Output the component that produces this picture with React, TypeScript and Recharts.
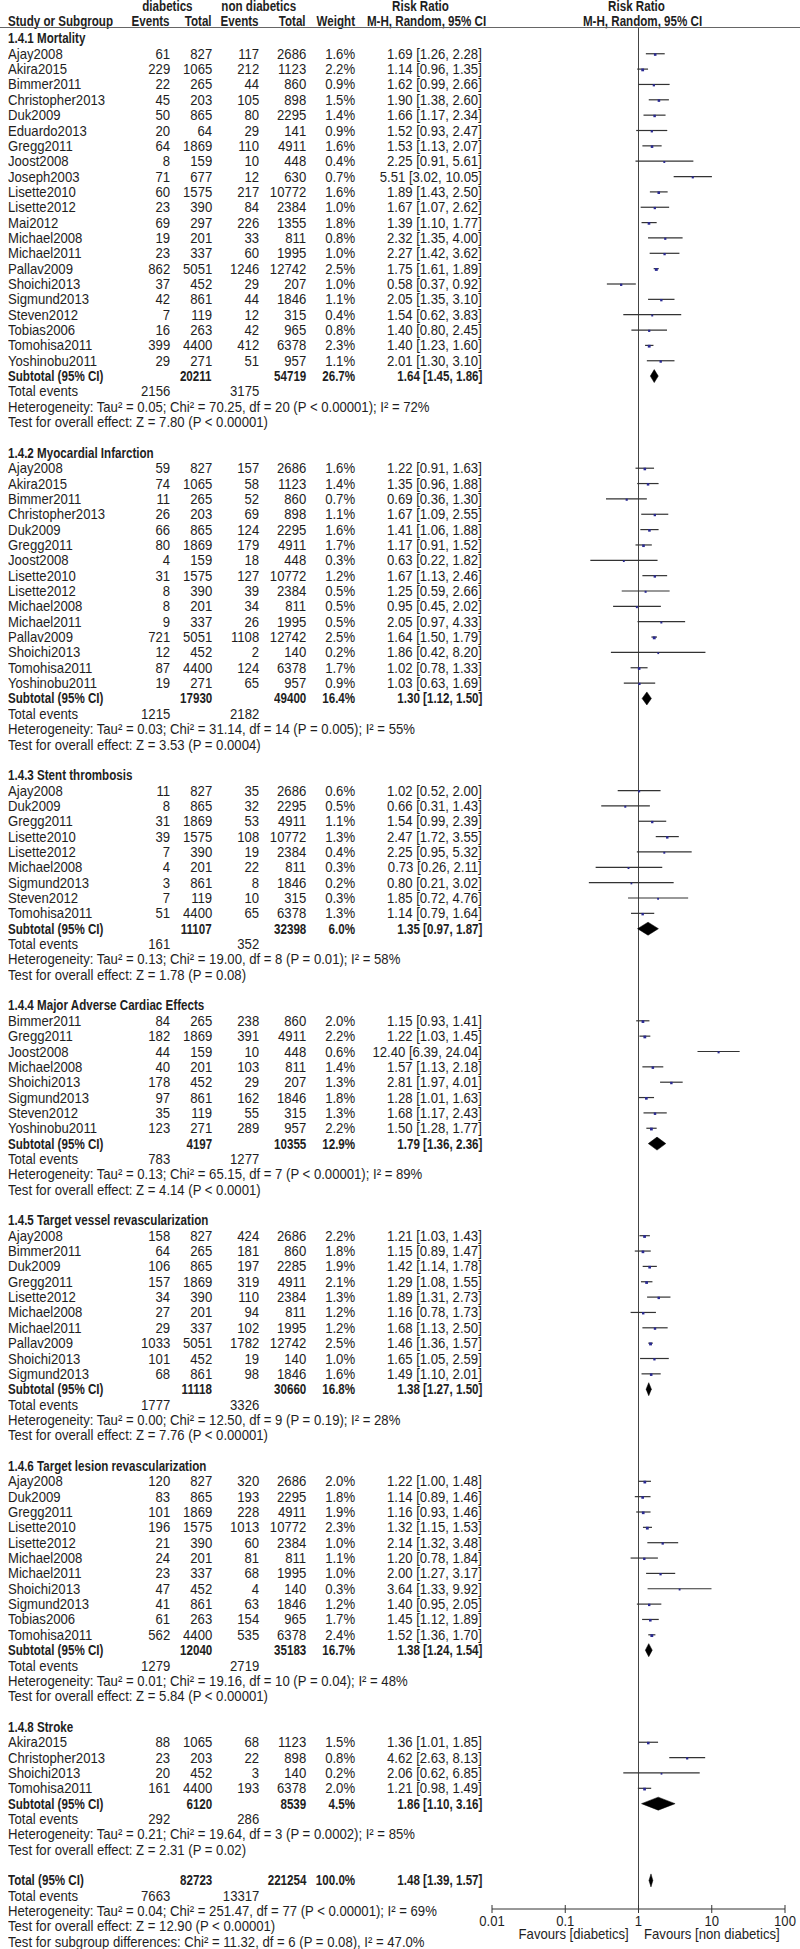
import React from 'react';
import { ScatterChart, Scatter, XAxis, YAxis, ErrorBar, ReferenceLine } from 'recharts';

// [study, diabetic events, diabetic total, non-diabetic events, non-diabetic total, weight %, RR, lower, upper]
type Study = [string, number, number, number, number, number, number, number, number];

const mortality: Study[] = [
  ['Ajay2008', 61, 827, 117, 2686, 1.6, 1.69, 1.26, 2.28],
  ['Akira2015', 229, 1065, 212, 1123, 2.2, 1.14, 0.96, 1.35],
  ['Bimmer2011', 22, 265, 44, 860, 0.9, 1.62, 0.99, 2.66],
  ['Christopher2013', 45, 203, 105, 898, 1.5, 1.9, 1.38, 2.6],
  ['Duk2009', 50, 865, 80, 2295, 1.4, 1.66, 1.17, 2.34],
  ['Eduardo2013', 20, 64, 29, 141, 0.9, 1.52, 0.93, 2.47],
  ['Gregg2011', 64, 1869, 110, 4911, 1.6, 1.53, 1.13, 2.07],
  ['Joost2008', 8, 159, 10, 448, 0.4, 2.25, 0.91, 5.61],
  ['Joseph2003', 71, 677, 12, 630, 0.7, 5.51, 3.02, 10.05],
  ['Lisette2010', 60, 1575, 217, 10772, 1.6, 1.89, 1.43, 2.5],
  ['Lisette2012', 23, 390, 84, 2384, 1.0, 1.67, 1.07, 2.62],
  ['Mai2012', 69, 297, 226, 1355, 1.8, 1.39, 1.1, 1.77],
  ['Michael2008', 19, 201, 33, 811, 0.8, 2.32, 1.35, 4.0],
  ['Michael2011', 23, 337, 60, 1995, 1.0, 2.27, 1.42, 3.62],
  ['Pallav2009', 862, 5051, 1246, 12742, 2.5, 1.75, 1.61, 1.89],
  ['Shoichi2013', 37, 452, 29, 207, 1.0, 0.58, 0.37, 0.92],
  ['Sigmund2013', 42, 861, 44, 1846, 1.1, 2.05, 1.35, 3.1],
  ['Steven2012', 7, 119, 12, 315, 0.4, 1.54, 0.62, 3.83],
  ['Tobias2006', 16, 263, 42, 965, 0.8, 1.4, 0.8, 2.45],
  ['Tomohisa2011', 399, 4400, 412, 6378, 2.3, 1.4, 1.23, 1.6],
  ['Yoshinobu2011', 29, 271, 51, 957, 1.1, 2.01, 1.3, 3.1],
];
const mortalitySub = [20211, 54719, 26.7, 1.64, 1.45, 1.86];
const mortalityEvents = [2156, 3175];
const mortalityHet = 'Heterogeneity: Tau² = 0.05; Chi² = 70.25, df = 20 (P < 0.00001); I² = 72%';
const mortalityZ = 'Test for overall effect: Z = 7.80 (P < 0.00001)';

const infarction: Study[] = [
  ['Ajay2008', 59, 827, 157, 2686, 1.6, 1.22, 0.91, 1.63],
  ['Akira2015', 74, 1065, 58, 1123, 1.4, 1.35, 0.96, 1.88],
  ['Bimmer2011', 11, 265, 52, 860, 0.7, 0.69, 0.36, 1.3],
  ['Christopher2013', 26, 203, 69, 898, 1.1, 1.67, 1.09, 2.55],
  ['Duk2009', 66, 865, 124, 2295, 1.6, 1.41, 1.06, 1.88],
  ['Gregg2011', 80, 1869, 179, 4911, 1.7, 1.17, 0.91, 1.52],
  ['Joost2008', 4, 159, 18, 448, 0.3, 0.63, 0.22, 1.82],
  ['Lisette2010', 31, 1575, 127, 10772, 1.2, 1.67, 1.13, 2.46],
  ['Lisette2012', 8, 390, 39, 2384, 0.5, 1.25, 0.59, 2.66],
  ['Michael2008', 8, 201, 34, 811, 0.5, 0.95, 0.45, 2.02],
  ['Michael2011', 9, 337, 26, 1995, 0.5, 2.05, 0.97, 4.33],
  ['Pallav2009', 721, 5051, 1108, 12742, 2.5, 1.64, 1.5, 1.79],
  ['Shoichi2013', 12, 452, 2, 140, 0.2, 1.86, 0.42, 8.2],
  ['Tomohisa2011', 87, 4400, 124, 6378, 1.7, 1.02, 0.78, 1.33],
  ['Yoshinobu2011', 19, 271, 65, 957, 0.9, 1.03, 0.63, 1.69],
];
const infarctionSub = [17930, 49400, 16.4, 1.3, 1.12, 1.5];
const infarctionEvents = [1215, 2182];
const infarctionHet = 'Heterogeneity: Tau² = 0.03; Chi² = 31.14, df = 14 (P = 0.005); I² = 55%';
const infarctionZ = 'Test for overall effect: Z = 3.53 (P = 0.0004)';

const thrombosis: Study[] = [
  ['Ajay2008', 11, 827, 35, 2686, 0.6, 1.02, 0.52, 2.0],
  ['Duk2009', 8, 865, 32, 2295, 0.5, 0.66, 0.31, 1.43],
  ['Gregg2011', 31, 1869, 53, 4911, 1.1, 1.54, 0.99, 2.39],
  ['Lisette2010', 39, 1575, 108, 10772, 1.3, 2.47, 1.72, 3.55],
  ['Lisette2012', 7, 390, 19, 2384, 0.4, 2.25, 0.95, 5.32],
  ['Michael2008', 4, 201, 22, 811, 0.3, 0.73, 0.26, 2.11],
  ['Sigmund2013', 3, 861, 8, 1846, 0.2, 0.8, 0.21, 3.02],
  ['Steven2012', 7, 119, 10, 315, 0.3, 1.85, 0.72, 4.76],
  ['Tomohisa2011', 51, 4400, 65, 6378, 1.3, 1.14, 0.79, 1.64],
];
const thrombosisSub = [11107, 32398, 6.0, 1.35, 0.97, 1.87];
const thrombosisEvents = [161, 352];
const thrombosisHet = 'Heterogeneity: Tau² = 0.13; Chi² = 19.00, df = 8 (P = 0.01); I² = 58%';
const thrombosisZ = 'Test for overall effect: Z = 1.78 (P = 0.08)';

const mace: Study[] = [
  ['Bimmer2011', 84, 265, 238, 860, 2.0, 1.15, 0.93, 1.41],
  ['Gregg2011', 182, 1869, 391, 4911, 2.2, 1.22, 1.03, 1.45],
  ['Joost2008', 44, 159, 10, 448, 0.6, 12.4, 6.39, 24.04],
  ['Michael2008', 40, 201, 103, 811, 1.4, 1.57, 1.13, 2.18],
  ['Shoichi2013', 178, 452, 29, 207, 1.3, 2.81, 1.97, 4.01],
  ['Sigmund2013', 97, 861, 162, 1846, 1.8, 1.28, 1.01, 1.63],
  ['Steven2012', 35, 119, 55, 315, 1.3, 1.68, 1.17, 2.43],
  ['Yoshinobu2011', 123, 271, 289, 957, 2.2, 1.5, 1.28, 1.77],
];
const maceSub = [4197, 10355, 12.9, 1.79, 1.36, 2.36];
const maceEvents = [783, 1277];
const maceHet = 'Heterogeneity: Tau² = 0.13; Chi² = 65.15, df = 7 (P < 0.00001); I² = 89%';
const maceZ = 'Test for overall effect: Z = 4.14 (P < 0.0001)';

const tvr: Study[] = [
  ['Ajay2008', 158, 827, 424, 2686, 2.2, 1.21, 1.03, 1.43],
  ['Bimmer2011', 64, 265, 181, 860, 1.8, 1.15, 0.89, 1.47],
  ['Duk2009', 106, 865, 197, 2285, 1.9, 1.42, 1.14, 1.78],
  ['Gregg2011', 157, 1869, 319, 4911, 2.1, 1.29, 1.08, 1.55],
  ['Lisette2012', 34, 390, 110, 2384, 1.3, 1.89, 1.31, 2.73],
  ['Michael2008', 27, 201, 94, 811, 1.2, 1.16, 0.78, 1.73],
  ['Michael2011', 29, 337, 102, 1995, 1.2, 1.68, 1.13, 2.5],
  ['Pallav2009', 1033, 5051, 1782, 12742, 2.5, 1.46, 1.36, 1.57],
  ['Shoichi2013', 101, 452, 19, 140, 1.0, 1.65, 1.05, 2.59],
  ['Sigmund2013', 68, 861, 98, 1846, 1.6, 1.49, 1.1, 2.01],
];
const tvrSub = [11118, 30660, 16.8, 1.38, 1.27, 1.5];
const tvrEvents = [1777, 3326];
const tvrHet = 'Heterogeneity: Tau² = 0.00; Chi² = 12.50, df = 9 (P = 0.19); I² = 28%';
const tvrZ = 'Test for overall effect: Z = 7.76 (P < 0.00001)';

const tlr: Study[] = [
  ['Ajay2008', 120, 827, 320, 2686, 2.0, 1.22, 1.0, 1.48],
  ['Duk2009', 83, 865, 193, 2295, 1.8, 1.14, 0.89, 1.46],
  ['Gregg2011', 101, 1869, 228, 4911, 1.9, 1.16, 0.93, 1.46],
  ['Lisette2010', 196, 1575, 1013, 10772, 2.3, 1.32, 1.15, 1.53],
  ['Lisette2012', 21, 390, 60, 2384, 1.0, 2.14, 1.32, 3.48],
  ['Michael2008', 24, 201, 81, 811, 1.1, 1.2, 0.78, 1.84],
  ['Michael2011', 23, 337, 68, 1995, 1.0, 2.0, 1.27, 3.17],
  ['Shoichi2013', 47, 452, 4, 140, 0.3, 3.64, 1.33, 9.92],
  ['Sigmund2013', 41, 861, 63, 1846, 1.2, 1.4, 0.95, 2.05],
  ['Tobias2006', 61, 263, 154, 965, 1.7, 1.45, 1.12, 1.89],
  ['Tomohisa2011', 562, 4400, 535, 6378, 2.4, 1.52, 1.36, 1.7],
];
const tlrSub = [12040, 35183, 16.7, 1.38, 1.24, 1.54];
const tlrEvents = [1279, 2719];
const tlrHet = 'Heterogeneity: Tau² = 0.01; Chi² = 19.16, df = 10 (P = 0.04); I² = 48%';
const tlrZ = 'Test for overall effect: Z = 5.84 (P < 0.00001)';

const stroke: Study[] = [
  ['Akira2015', 88, 1065, 68, 1123, 1.5, 1.36, 1.01, 1.85],
  ['Christopher2013', 23, 203, 22, 898, 0.8, 4.62, 2.63, 8.13],
  ['Shoichi2013', 20, 452, 3, 140, 0.2, 2.06, 0.62, 6.85],
  ['Tomohisa2011', 161, 4400, 193, 6378, 2.0, 1.21, 0.98, 1.49],
];
const strokeSub = [6120, 8539, 4.5, 1.86, 1.1, 3.16];
const strokeEvents = [292, 286];
const strokeHet = 'Heterogeneity: Tau² = 0.21; Chi² = 19.64, df = 3 (P = 0.0002); I² = 85%';
const strokeZ = 'Test for overall effect: Z = 2.31 (P = 0.02)';

const overall = [82723, 221254, 100.0, 1.48, 1.39, 1.57];
const overallEvents = [7663, 13317];
const overallNotes = [
  'Heterogeneity: Tau² = 0.04; Chi² = 251.47, df = 77 (P < 0.00001); I² = 69%',
  'Test for overall effect: Z = 12.90 (P < 0.00001)',
  'Test for subgroup differences: Chi² = 11.32, df = 6 (P = 0.08), I² = 47.0%',
];

const xTicks = [0.01, 0.1, 1, 10, 100];
const xTickLabels = ['0.01', '0.1', '1', '10', '100'];

// layout
const W = 800;
const H = 1949;
const TOP = 28;
const AXIS_Y = 1909;
const ROW0 = 38.4;
const ROWH = 15.35;
const PLOT_L = 492;
const PLOT_R = 785;
const Y_MIN = -(ROW0 - TOP) / ROWH;
const Y_MAX = Y_MIN + (AXIS_Y - TOP) / ROWH;
const rowY = (i: number) => ROW0 + i * ROWH;

// Arial Narrow look: Liberation Sans squeezed horizontally (bold squeezed a bit more)
const FONT = "'Liberation Sans', Arial, sans-serif";
const FS = 14.5;
const SQ = 0.905;
const SQ_BOLD = 0.8;
const INK = '#1e1e1e';

const COL = { dEv: 170, dTot: 212, nEv: 259, nTot: 306, wt: 355, ci: 482 };

const groups = [
  { title: '1.4.1 Mortality', studies: mortality, sub: mortalitySub, ev: mortalityEvents, het: mortalityHet, z: mortalityZ },
  { title: '1.4.2 Myocardial Infarction', studies: infarction, sub: infarctionSub, ev: infarctionEvents, het: infarctionHet, z: infarctionZ },
  { title: '1.4.3 Stent thrombosis', studies: thrombosis, sub: thrombosisSub, ev: thrombosisEvents, het: thrombosisHet, z: thrombosisZ },
  { title: '1.4.4 Major Adverse Cardiac Effects', studies: mace, sub: maceSub, ev: maceEvents, het: maceHet, z: maceZ },
  { title: '1.4.5 Target vessel revascularization', studies: tvr, sub: tvrSub, ev: tvrEvents, het: tvrHet, z: tvrZ },
  { title: '1.4.6 Target lesion revascularization', studies: tlr, sub: tlrSub, ev: tlrEvents, het: tlrHet, z: tlrZ },
  { title: '1.4.8 Stroke', studies: stroke, sub: strokeSub, ev: strokeEvents, het: strokeHet, z: strokeZ },
];

const ci = (rr: number, lo: number, hi: number) => `${rr.toFixed(2)} [${lo.toFixed(2)}, ${hi.toFixed(2)}]`;

type Cell = { text: string; right?: number; left?: number; center?: number };
type Row = { i: number; bold?: boolean; cells: Cell[] };

const rows: Row[] = [];
const studyPoints: { x: number; y: number; err: number[]; w: number }[] = [];
const diamonds: { x: number; y: number }[][] = [];

let r = 0;
groups.forEach((g) => {
  rows.push({ i: r++, bold: true, cells: [{ text: g.title, left: 8 }] });
  g.studies.forEach(([name, de, dt, ne, nt, w, rr, lo, hi]) => {
    rows.push({
      i: r,
      cells: [
        { text: name, left: 8 },
        { text: String(de), right: COL.dEv },
        { text: String(dt), right: COL.dTot },
        { text: String(ne), right: COL.nEv },
        { text: String(nt), right: COL.nTot },
        { text: `${w.toFixed(1)}%`, right: COL.wt },
        { text: ci(rr, lo, hi), right: COL.ci },
      ],
    });
    studyPoints.push({ x: rr, y: r, err: [rr - lo, hi - rr], w });
    r++;
  });
  const [dt, nt, w, rr, lo, hi] = g.sub;
  rows.push({
    i: r,
    bold: true,
    cells: [
      { text: 'Subtotal (95% CI)', left: 8 },
      { text: String(dt), right: COL.dTot },
      { text: String(nt), right: COL.nTot },
      { text: `${w.toFixed(1)}%`, right: COL.wt },
      { text: ci(rr, lo, hi), right: COL.ci },
    ],
  });
  diamonds.push([{ x: lo, y: r }, { x: rr, y: r }, { x: hi, y: r }]);
  r++;
  rows.push({
    i: r++,
    cells: [
      { text: 'Total events', left: 8 },
      { text: String(g.ev[0]), right: COL.dEv },
      { text: String(g.ev[1]), right: COL.nEv },
    ],
  });
  rows.push({ i: r++, cells: [{ text: g.het, left: 8 }] });
  rows.push({ i: r++, cells: [{ text: g.z, left: 8 }] });
  r++; // blank line between subgroups
});

{
  const [dt, nt, w, rr, lo, hi] = overall;
  rows.push({
    i: r,
    bold: true,
    cells: [
      { text: 'Total (95% CI)', left: 8 },
      { text: String(dt), right: COL.dTot },
      { text: String(nt), right: COL.nTot },
      { text: `${w.toFixed(1)}%`, right: COL.wt },
      { text: ci(rr, lo, hi), right: COL.ci },
    ],
  });
  diamonds.push([{ x: lo, y: r }, { x: rr, y: r }, { x: hi, y: r }]);
  r++;
  rows.push({
    i: r++,
    cells: [
      { text: 'Total events', left: 8 },
      { text: String(overallEvents[0]), right: COL.dEv },
      { text: String(overallEvents[1]), right: COL.nEv },
    ],
  });
  overallNotes.forEach((t) => rows.push({ i: r++, cells: [{ text: t, left: 8 }] }));
}

const headerCells: { y: number; cells: Cell[] }[] = [
  {
    y: 6,
    cells: [
      { text: 'diabetics', center: 167 },
      { text: 'non diabetics', center: 259 },
      { text: 'Risk Ratio', center: 420 },
      { text: 'Risk Ratio', center: 636 },
    ],
  },
  {
    y: 21,
    cells: [
      { text: 'Study or Subgroup', left: 8 },
      { text: 'Events', right: COL.dEv },
      { text: 'Total', right: COL.dTot },
      { text: 'Events', right: COL.nEv },
      { text: 'Total', right: COL.nTot },
      { text: 'Weight', right: COL.wt },
      { text: 'M-H, Random, 95% CI', center: 427 },
      { text: 'M-H, Random, 95% CI', center: 643 },
    ],
  },
];

const Label = ({ y, cell, bold }: { y: number; cell: Cell; bold?: boolean }) => {
  let pos: React.CSSProperties;
  let origin = 'left center';
  if (cell.right !== undefined) {
    pos = { right: W - cell.right, textAlign: 'right' };
    origin = 'right center';
  } else if (cell.center !== undefined) {
    pos = { left: cell.center - 150, width: 300, textAlign: 'center' };
    origin = 'center center';
  } else {
    pos = { left: cell.left };
  }
  return (
    <div
      style={{
        position: 'absolute',
        top: y - 8,
        height: 16,
        lineHeight: '16px',
        whiteSpace: 'nowrap',
        fontWeight: bold ? 700 : 400,
        ...pos,
      }}
    >
      <span
        style={{
          display: 'inline-block',
          transform: `scaleX(${bold ? SQ_BOLD : SQ})`,
          transformOrigin: origin,
        }}
      >
        {cell.text}
      </span>
    </div>
  );
};

const Square = (p: any) => {
  const s = 1.3 + 1.0 * Math.sqrt(p.payload.w);
  return <rect x={p.cx - s / 2} y={p.cy - s / 2 + 0.8} width={s} height={s} fill="#2a2a92" />;
};

const Nothing = () => <g />;

const diamondLine = (p: any) => {
  const pts = p.points;
  if (!pts || pts.length < 3) return <g />;
  const [a, m, b] = pts;
  const h = 6.5;
  return (
    <polygon
      points={`${a.x},${a.y} ${m.x},${m.y - h} ${b.x},${b.y} ${m.x},${m.y + h}`}
      fill="#000"
      stroke="#000"
      strokeWidth={0.5}
    />
  );
};

const AxisTick = (p: any) => {
  const idx = xTicks.indexOf(p.payload.value);
  return (
    <g>
      <line x1={p.x} x2={p.x} y1={p.y - 4} y2={p.y + 4} stroke="#333" strokeWidth={1} />
      <text
        transform={`translate(${p.x},${p.y + 16.5}) scale(${SQ},1)`}
        textAnchor="middle"
        fontSize={FS}
        fontFamily={FONT}
        fill={INK}
      >
        {xTickLabels[idx] ?? String(p.payload.value)}
      </text>
    </g>
  );
};

export default function App() {
  return (
    <div
      style={{
        position: 'absolute',
        top: 0,
        left: 0,
        width: W,
        height: H,
        background: '#fff',
        fontFamily: FONT,
        fontSize: FS,
        color: INK,
      }}
    >
      <ScatterChart
        width={W}
        height={H}
        margin={{ top: TOP, bottom: H - AXIS_Y - 40, left: PLOT_L, right: W - PLOT_R }}
      >
        <XAxis
          type="number"
          dataKey="x"
          scale="log"
          domain={[0.01, 100]}
          ticks={xTicks}
          allowDataOverflow
          height={40}
          tickSize={0}
          tickMargin={0}
          tickLine={false}
          axisLine={{ stroke: '#333', strokeWidth: 1 }}
          tick={<AxisTick />}
          interval={0}
        />
        <YAxis type="number" dataKey="y" domain={[Y_MIN, Y_MAX]} reversed allowDataOverflow hide width={0} />
        <ReferenceLine x={1} stroke="#444" strokeWidth={1} />
        <Scatter data={studyPoints} shape={<Nothing />} isAnimationActive={false}>
          <ErrorBar dataKey="err" direction="x" width={0} stroke="#333" strokeWidth={1.2} isAnimationActive={false} />
        </Scatter>
        <Scatter data={studyPoints} shape={<Square />} isAnimationActive={false} />
        {diamonds.map((d, k) => (
          <Scatter
            key={k}
            data={d}
            shape={<Nothing />}
            line={diamondLine}
            lineType="joint"
            isAnimationActive={false}
          />
        ))}
      </ScatterChart>

      {headerCells.map((h, j) =>
        h.cells.map((c, k) => <Label key={`h${j}-${k}`} y={h.y} cell={c} bold />),
      )}
      <div style={{ position: 'absolute', left: 0, top: TOP - 1, width: W, height: 1, background: '#666' }} />

      {rows.map((row) =>
        row.cells.map((c, k) => <Label key={`${row.i}-${k}`} y={rowY(row.i)} cell={c} bold={row.bold} />),
      )}

      <Label y={1934} cell={{ text: 'Favours [diabetics]', right: 629 }} />
      <Label y={1934} cell={{ text: 'Favours [non diabetics]', left: 644 }} />
    </div>
  );
}
